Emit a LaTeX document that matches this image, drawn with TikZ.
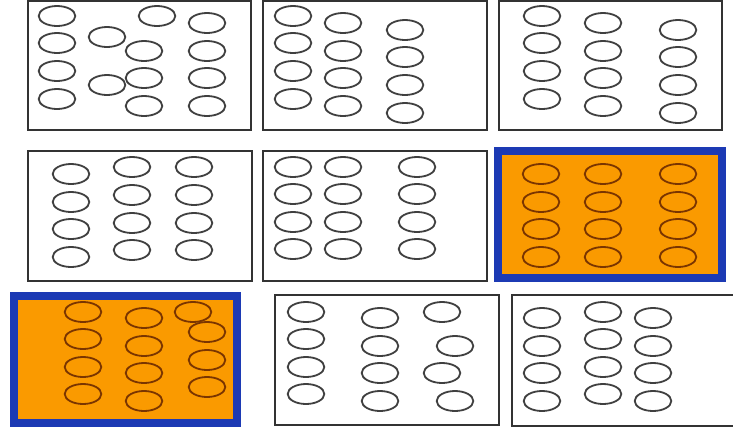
\documentclass[tikz,border=0pt]{standalone}
\begin{document}
\begin{tikzpicture}[x=1pt,y=-1pt,
  plainbox/.style={draw=black!80,line width=2.2pt,fill=white},
  hotbox/.style={draw=hotblue,line width=8pt,fill=hotorange},
  ell/.style={draw=black!75,line width=1.8pt},
  hotell/.style={draw=hotbrown,line width=1.8pt}]
\definecolor{hotorange}{HTML}{FA9A00}
\definecolor{hotblue}{HTML}{1C3AB4}
\definecolor{hotbrown}{HTML}{7A3500}
\useasboundingbox (0,0) rectangle (733,432);
% row 1
\draw[plainbox] (28,1) rectangle (251,130);
\foreach \x/\y in {57/16,57/43,57/71,57/99,157/16,207/23,107/37,144/51,207/51,144/78,207/78,107/85,144/106,207/106}
  \draw[ell] (\x,\y) ellipse [x radius=18.3,y radius=10];
\draw[plainbox] (263,1) rectangle (487,130);
\foreach \x/\y in {293/16,293/43,293/71,293/99,343/23,343/51,343/78,343/106,405/30,405/57,405/85,405/113}
  \draw[ell] (\x,\y) ellipse [x radius=18.3,y radius=10];
\draw[plainbox] (499,1) rectangle (722,130);
\foreach \x/\y in {542/16,542/43,542/71,542/99,603/23,603/51,603/78,603/106,678/30,678/57,678/85,678/113}
  \draw[ell] (\x,\y) ellipse [x radius=18.3,y radius=10];
% row 2
\draw[plainbox] (28,151) rectangle (252,281);
\foreach \x/\y in {71/174,71/202,71/229,71/257,132/167,132/195,132/223,132/250,194/167,194/195,194/223,194/250}
  \draw[ell] (\x,\y) ellipse [x radius=18.3,y radius=10];
\draw[plainbox] (263,151) rectangle (487,281);
\foreach \x/\y in {293/167,293/194,293/222,293/249,343/167,343/194,343/222,343/249,417/167,417/194,417/222,417/249}
  \draw[ell] (\x,\y) ellipse [x radius=18.3,y radius=10];
\draw[hotbox] (498,151) rectangle (722,278);
\foreach \x/\y in {541/174,541/202,541/229,541/257,603/174,603/202,603/229,603/257,678/174,678/202,678/229,678/257}
  \draw[hotell] (\x,\y) ellipse [x radius=18.3,y radius=10];
% row 3
\draw[hotbox] (14,296) rectangle (237,423);
\foreach \x/\y in {83/312,83/339,83/367,83/394,144/318,144/346,144/373,144/401,193/312,207/332,207/360,207/387}
  \draw[hotell] (\x,\y) ellipse [x radius=18.3,y radius=10];
\draw[plainbox] (275,295) rectangle (499,425);
\foreach \x/\y in {306/312,306/339,306/367,306/394,380/318,380/346,380/373,380/401,442/312,455/346,442/373,455/401}
  \draw[ell] (\x,\y) ellipse [x radius=18.3,y radius=10];
\draw[plainbox] (512,295) rectangle (740,426);
\foreach \x/\y in {542/318,542/346,542/373,542/401,603/312,603/339,603/367,603/394,653/318,653/346,653/373,653/401}
  \draw[ell] (\x,\y) ellipse [x radius=18.3,y radius=10];
\end{tikzpicture}
\end{document}
